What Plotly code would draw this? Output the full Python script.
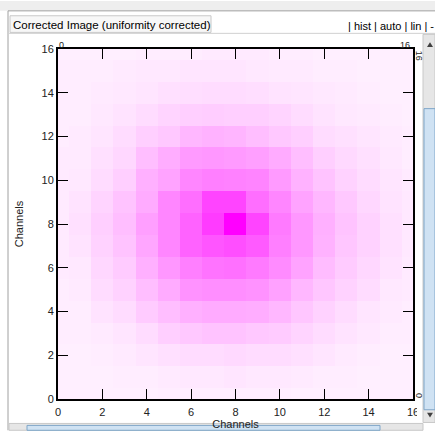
import plotly.graph_objects as go

# ---- data: channel grid (x = 0..16, y = 0..16), normalised intensity ----
channels_x = list(range(17))
channels_y = list(range(17))

row_y0  = [0.02, 0.02, 0.02, 0.02, 0.02, 0.03, 0.03, 0.03, 0.03, 0.03, 0.03, 0.02, 0.02, 0.02, 0.02, 0.02, 0.02]
row_y1  = [0.02, 0.02, 0.02, 0.03, 0.03, 0.04, 0.05, 0.05, 0.06, 0.05, 0.05, 0.04, 0.03, 0.03, 0.02, 0.02, 0.02]
row_y2  = [0.02, 0.02, 0.03, 0.04, 0.06, 0.08, 0.10, 0.10, 0.11, 0.10, 0.10, 0.08, 0.06, 0.04, 0.03, 0.02, 0.02]
row_y3  = [0.03, 0.03, 0.04, 0.06, 0.10, 0.15, 0.18, 0.20, 0.20, 0.18, 0.17, 0.13, 0.10, 0.07, 0.05, 0.03, 0.03]
row_y4  = [0.03, 0.03, 0.07, 0.10, 0.17, 0.22, 0.28, 0.30, 0.30, 0.29, 0.25, 0.19, 0.14, 0.10, 0.06, 0.04, 0.03]
row_y5  = [0.03, 0.04, 0.10, 0.14, 0.22, 0.30, 0.40, 0.42, 0.42, 0.40, 0.34, 0.25, 0.19, 0.14, 0.10, 0.05, 0.04]
row_y6  = [0.04, 0.05, 0.12, 0.17, 0.28, 0.38, 0.48, 0.53, 0.54, 0.50, 0.43, 0.33, 0.23, 0.17, 0.12, 0.07, 0.04]
row_y7  = [0.04, 0.07, 0.14, 0.20, 0.32, 0.45, 0.60, 0.65, 0.68, 0.63, 0.48, 0.38, 0.27, 0.19, 0.14, 0.08, 0.05]
row_y8  = [0.04, 0.08, 0.15, 0.22, 0.35, 0.45, 0.60, 0.76, 1.00, 0.72, 0.50, 0.38, 0.28, 0.20, 0.14, 0.08, 0.05]
row_y9  = [0.04, 0.07, 0.13, 0.20, 0.30, 0.45, 0.55, 0.72, 0.72, 0.55, 0.45, 0.33, 0.25, 0.18, 0.12, 0.07, 0.05]
row_y10 = [0.04, 0.05, 0.10, 0.15, 0.28, 0.33, 0.45, 0.48, 0.47, 0.46, 0.37, 0.27, 0.20, 0.14, 0.10, 0.06, 0.04]
row_y11 = [0.04, 0.04, 0.08, 0.12, 0.22, 0.29, 0.37, 0.38, 0.37, 0.35, 0.30, 0.22, 0.15, 0.11, 0.08, 0.05, 0.03]
row_y12 = [0.03, 0.04, 0.06, 0.10, 0.15, 0.18, 0.25, 0.27, 0.26, 0.22, 0.18, 0.15, 0.10, 0.08, 0.06, 0.04, 0.03]
row_y13 = [0.03, 0.03, 0.05, 0.07, 0.10, 0.13, 0.15, 0.16, 0.15, 0.15, 0.13, 0.10, 0.07, 0.05, 0.04, 0.03, 0.02]
row_y14 = [0.03, 0.03, 0.04, 0.05, 0.06, 0.08, 0.09, 0.10, 0.10, 0.09, 0.07, 0.06, 0.05, 0.04, 0.03, 0.02, 0.02]
row_y15 = [0.03, 0.03, 0.03, 0.04, 0.05, 0.05, 0.06, 0.06, 0.06, 0.05, 0.04, 0.04, 0.03, 0.03, 0.02, 0.02, 0.02]
row_y16 = [0.02, 0.02, 0.02, 0.02, 0.03, 0.03, 0.03, 0.04, 0.04, 0.04, 0.03, 0.03, 0.02, 0.02, 0.02, 0.02, 0.02]

tick_vals = [0, 2, 4, 6, 8, 10, 12, 14, 16]
tick_text = ["0", "2", "4", "6", "8", "10", "12", "14", "16"]

z = [row_y0, row_y1, row_y2, row_y3, row_y4, row_y5, row_y6, row_y7, row_y8,
     row_y9, row_y10, row_y11, row_y12, row_y13, row_y14, row_y15, row_y16]

# ---- layout geometry (pixels) ----
W, H = 435, 439
L, R, T, B = 58, 22, 49, 32
PW, PH = W - L - R, H - T - B

def px(xp):
    return (xp - L) / PW

def py(yp):
    return (H - B - yp) / PH

FONT = "Liberation Sans, Arial, sans-serif"

fig = go.Figure()
fig.add_trace(go.Heatmap(
    x=channels_x, y=channels_y, z=z,
    zmin=0, zmax=1, zsmooth=False,
    colorscale=[[0, "#fff4ff"], [1, "#ff00ff"]],
    showscale=False, hoverinfo="skip",
))

axis_common = dict(
    range=[0, 16], tickmode="array", tickvals=tick_vals, ticktext=tick_text,
    ticks="inside", ticklen=10, tickwidth=1, tickcolor="#000000",
    showline=True, linecolor="#000000", linewidth=2, mirror="ticks",
    showgrid=False, zeroline=False,
    tickfont=dict(family=FONT, size=11, color="#222222"),
    title_font=dict(family=FONT, size=11, color="#222222"),
    fixedrange=True,
)

fig.update_xaxes(**axis_common, title_text="Channels", title_standoff=1,
                 ticklabelstandoff=2)
fig.update_yaxes(**axis_common, title_text="Channels", title_standoff=16)

shapes = []
# top window strip
shapes.append(dict(type="rect", xref="paper", yref="paper",
                   x0=px(0), x1=px(W), y0=py(0), y1=py(10),
                   fillcolor="#eeeeee", line=dict(width=0), layer="above"))
shapes.append(dict(type="line", xref="paper", yref="paper",
                   x0=px(8), x1=px(W), y0=py(10), y1=py(10),
                   line=dict(color="#a0a0a0", width=1), layer="above"))
# left window border
shapes.append(dict(type="line", xref="paper", yref="paper",
                   x0=px(8), x1=px(8), y0=py(10), y1=py(H),
                   line=dict(color="#a0a0a0", width=1), layer="above"))
# title box
shapes.append(dict(type="rect", xref="paper", yref="paper",
                   x0=px(10), x1=px(211), y0=py(15), y1=py(32),
                   fillcolor="#f7f7f7", line=dict(color="#c8c8c8", width=1), layer="above"))
# separator under title bar
shapes.append(dict(type="line", xref="paper", yref="paper",
                   x0=px(8), x1=px(W), y0=py(33), y1=py(33),
                   line=dict(color="#d0d0d0", width=1), layer="above"))
# white gap left of vertical scrollbar (clips last x label)
shapes.append(dict(type="rect", xref="paper", yref="paper",
                   x0=px(417), x1=px(424), y0=py(410), y1=py(430),
                   fillcolor="#ffffff", line=dict(width=0), layer="above"))
# vertical scrollbar track
shapes.append(dict(type="rect", xref="paper", yref="paper",
                   x0=px(423), x1=px(W), y0=py(34), y1=py(431),
                   fillcolor="#e6e6e6", line=dict(color="#c8c8c8", width=1), layer="above"))
# vertical scrollbar thumb
shapes.append(dict(type="rect", xref="paper", yref="paper",
                   x0=px(424), x1=px(W), y0=py(110), y1=py(418),
                   fillcolor="#cfe2f3", line=dict(color="#7fa6c9", width=1), layer="above"))
# up arrow
shapes.append(dict(type="path", xref="paper", yref="paper",
                   path=f"M {px(427)} {py(47)} L {px(433)} {py(47)} L {px(430)} {py(42)} Z",
                   fillcolor="#404040", line=dict(width=0), layer="above"))
# down arrow
shapes.append(dict(type="path", xref="paper", yref="paper",
                   path=f"M {px(427)} {py(421)} L {px(433)} {py(421)} L {px(430)} {py(426)} Z",
                   fillcolor="#404040", line=dict(width=0), layer="above"))
# bottom scrollbar
shapes.append(dict(type="rect", xref="paper", yref="paper",
                   x0=px(9), x1=px(423), y0=py(432), y1=py(H),
                   fillcolor="#e6e6e6", line=dict(color="#c8c8c8", width=1), layer="above"))
shapes.append(dict(type="rect", xref="paper", yref="paper",
                   x0=px(27), x1=px(380), y0=py(434), y1=py(H),
                   fillcolor="#cfe2f3", line=dict(color="#7fa6c9", width=1), layer="above"))

annotations = [
    dict(text="Corrected Image (uniformity corrected)", xref="paper", yref="paper",
         x=px(11), y=py(24), xanchor="left", yanchor="middle", showarrow=False,
         font=dict(family=FONT, size=11.5, color="#000000")),
    dict(text="| hist | auto | lin | -", xref="paper", yref="paper",
         x=px(346), y=py(25), xanchor="left", yanchor="middle", showarrow=False,
         font=dict(family=FONT, size=11, color="#000000")),
    dict(text="0", xref="paper", yref="paper", x=px(61), y=py(45),
         xanchor="center", yanchor="middle", showarrow=False,
         font=dict(family=FONT, size=9, color="#222222")),
    dict(text="16", xref="paper", yref="paper", x=px(405), y=py(45),
         xanchor="center", yanchor="middle", showarrow=False,
         font=dict(family=FONT, size=9, color="#222222")),
    dict(text="16", xref="paper", yref="paper", x=px(419), y=py(56),
         xanchor="center", yanchor="middle", showarrow=False, textangle=90,
         font=dict(family=FONT, size=9, color="#222222")),
    dict(text="0", xref="paper", yref="paper", x=px(419), y=py(403),
         xanchor="center", yanchor="middle", showarrow=False, textangle=90,
         font=dict(family=FONT, size=9, color="#222222")),
]

fig.update_layout(
    width=W, height=H, autosize=False,
    margin=dict(l=L, r=R, t=T, b=B, pad=0),
    paper_bgcolor="#ffffff", plot_bgcolor="#ffffff",
    shapes=shapes, annotations=annotations,
    showlegend=False,
)

fig.write_html("out.html", include_plotlyjs=True, config={"displayModeBar": False})
